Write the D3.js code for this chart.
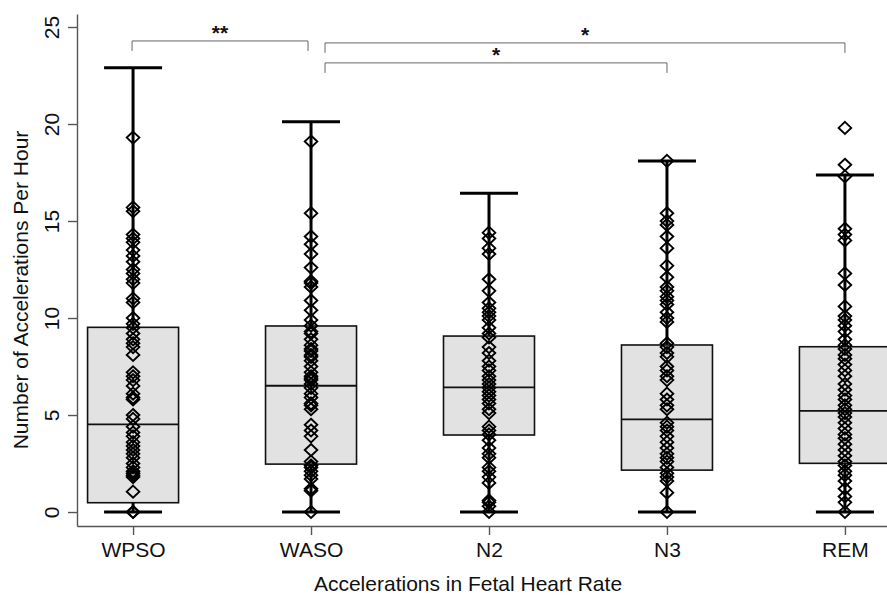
<!DOCTYPE html>
<html>
<head>
<meta charset="utf-8">
<script src="https://cdn.jsdelivr.net/npm/d3@7"></script>
<style>
  body { margin: 0; background: #fff; }
  svg text { font-family: "Liberation Sans", Arial, Helvetica, sans-serif; fill: #111; }
</style>
</head>
<body>
<div id="area"></div>
<script>
// categories and summary stats
var categories = ["WPSO", "WASO", "N2", "N3", "REM"];
var whiskerLow  = [0, 0, 0, 0, 0];
var q1          = [0.48, 2.47, 3.97, 2.16, 2.51];
var median      = [4.52, 6.51, 6.43, 4.78, 5.21];
var q3          = [9.52, 9.59, 9.07, 8.61, 8.52];
var whiskerHigh = [22.9, 20.12, 16.43, 18.09, 17.37];

// individual observations (diamonds)
var ptsWPSO = [0, 0, 1.05, 1.8, 1.9, 2.0, 2.1, 2.3, 2.5, 2.8, 3.0, 3.2, 3.4, 3.6, 3.9, 4.1, 4.4,
  4.8, 5.0, 5.8, 5.9, 6.1, 6.5, 6.8, 7.0, 7.2, 8.1, 8.5, 8.7, 8.9, 9.2, 9.5, 9.7, 10.0, 10.8,
  11.0, 11.8, 12.0, 12.3, 12.5, 12.9, 13.2, 13.5, 13.9, 14.1, 14.3, 15.5, 15.7, 19.3];
var ptsWASO = [0, 1.1, 1.2, 1.7, 1.9, 2.1, 2.3, 2.4, 2.6, 3.2, 3.9, 4.2, 4.5, 5.3, 5.5, 5.6, 5.9,
  6.1, 6.4, 6.6, 6.8, 6.9, 7.0, 7.2, 7.5, 7.8, 8.0, 8.1, 8.3, 8.4, 8.6, 8.9, 9.2, 9.3, 9.6, 9.9,
  10.4, 10.9, 11.6, 11.8, 11.9, 12.6, 13.3, 13.8, 14.2, 15.4, 19.1];
var ptsN2 = [0, 0.3, 0.5, 0.6, 1.5, 1.8, 2.1, 2.3, 2.8, 3.0, 3.3, 3.7, 4.0, 4.2, 4.4, 5.1, 5.3,
  5.6, 5.8, 6.0, 6.2, 6.4, 6.6, 6.8, 7.0, 7.3, 7.5, 7.8, 8.2, 8.5, 9.0, 9.2, 9.5, 9.9, 10.1,
  10.3, 10.5, 10.8, 11.4, 12.0, 13.3, 13.6, 14.1, 14.4];
var ptsN3 = [0, 1.0, 1.6, 1.8, 2.0, 2.3, 2.6, 2.8, 3.0, 3.3, 3.6, 3.9, 4.2, 4.4, 4.6, 5.3, 5.5,
  5.8, 6.1, 6.8, 7.0, 7.3, 7.5, 8.0, 8.2, 8.5, 8.7, 9.8, 10.0, 10.3, 10.7, 10.9, 11.1, 11.4,
  11.6, 12.1, 12.7, 13.6, 14.2, 14.8, 15.0, 15.4, 18.1];
var ptsREM = [0, 0.5, 0.8, 1.2, 1.6, 1.9, 2.1, 2.4, 2.6, 2.9, 3.2, 3.5, 3.8, 4.0, 4.3, 4.6, 4.9,
  5.1, 5.3, 5.5, 5.8, 6.0, 6.3, 6.6, 7.0, 7.3, 7.6, 7.9, 8.1, 8.4, 8.6, 8.9, 9.3, 9.6, 9.9,
  10.1, 10.6, 11.7, 12.3, 14.0, 14.3, 14.6, 17.3, 17.9, 19.8];
var points = [ptsWPSO, ptsWASO, ptsN2, ptsN3, ptsREM];

// significance brackets: from, to, height (in y units), label
var bracketFrom  = ["WPSO", "WASO", "WASO"];
var bracketTo    = ["WASO", "REM", "N3"];
var bracketLevel = [24.28, 24.18, 23.15];
var bracketLabel = ["**", "*", "*"];

var yTicks = [0, 5, 10, 15, 20, 25];

var width = 887, height = 596;

var svg = d3.select('#area').append('svg')
    .attr('width', width)
    .attr('height', height);

var x = d3.scalePoint()
    .domain(categories)
    .range([77, 901])
    .padding(0.315);

var y = d3.scaleLinear()
    .domain([-0.72, 25.67])
    .range([526, 14]);

var boxW = 91, capW = 58;

var data = categories.map(function(c, i) {
  return {cat: c, lo: whiskerLow[i], q1: q1[i], med: median[i], q3: q3[i], hi: whiskerHigh[i], pts: points[i]};
});

var groups = svg.selectAll('.group')
    .data(data)
  .enter().append('g')
    .attr('class', 'group')
    .attr('transform', function(d) { return 'translate(' + x(d.cat) + ',0)'; });

// whiskers
groups.append('line')
    .attr('y1', function(d) { return y(d.lo); })
    .attr('y2', function(d) { return y(d.hi); })
    .attr('stroke', '#000')
    .attr('stroke-width', 3);

groups.selectAll('.cap')
    .data(function(d) { return [d.lo, d.hi]; })
  .enter().append('line')
    .attr('class', 'cap')
    .attr('x1', -capW / 2)
    .attr('x2', capW / 2)
    .attr('y1', function(v) { return y(v); })
    .attr('y2', function(v) { return y(v); })
    .attr('stroke', '#000')
    .attr('stroke-width', 3);

// box
groups.append('rect')
    .attr('x', -boxW / 2)
    .attr('width', boxW)
    .attr('y', function(d) { return y(d.q3); })
    .attr('height', function(d) { return y(d.q1) - y(d.q3); })
    .attr('fill', '#e2e2e2')
    .attr('stroke', '#111')
    .attr('stroke-width', 1.6);

groups.append('line')
    .attr('x1', -boxW / 2)
    .attr('x2', boxW / 2)
    .attr('y1', function(d) { return y(d.med); })
    .attr('y2', function(d) { return y(d.med); })
    .attr('stroke', '#111')
    .attr('stroke-width', 1.8);

// diamonds
groups.selectAll('.pt')
    .data(function(d) { return d.pts; })
  .enter().append('path')
    .attr('class', 'pt')
    .attr('d', function(v) {
      var cy = y(v);
      return 'M0,' + (cy - 6) + 'L6.3,' + cy + 'L0,' + (cy + 6) + 'L-6.3,' + cy + 'Z';
    })
    .attr('fill', 'none')
    .attr('stroke', '#000')
    .attr('stroke-width', 1.9);

// axes
var xAxis = d3.axisBottom(x).tickSize(9).tickSizeOuter(0).tickPadding(6);
var gx = svg.append('g')
    .attr('class', 'xaxis')
    .attr('transform', 'translate(0,526)')
    .call(xAxis);
gx.select('.domain').attr('stroke', '#555').attr('stroke-width', 1.4);
gx.selectAll('.tick line').attr('stroke', '#555').attr('stroke-width', 1.4);
gx.selectAll('.tick text')
    .attr('y', 31)
    .attr('dy', 0)
    .style('font-size', '21px');

var yAxis = d3.axisLeft(y).tickValues(yTicks).tickSize(9).tickSizeOuter(0);
var gy = svg.append('g')
    .attr('class', 'yaxis')
    .attr('transform', 'translate(77,0)')
    .call(yAxis);
gy.select('.domain').attr('stroke', '#555').attr('stroke-width', 1.4);
gy.selectAll('.tick line').attr('stroke', '#555').attr('stroke-width', 1.4);
gy.selectAll('.tick text')
    .attr('transform', 'rotate(-90)')
    .attr('x', 0)
    .attr('y', -18)
    .attr('dy', 0)
    .style('text-anchor', 'middle')
    .style('font-size', '21px');

// axis titles
svg.append('text')
    .attr('x', 468)
    .attr('y', 591)
    .style('text-anchor', 'middle')
    .style('font-size', '21px')
    .text('Accelerations in Fetal Heart Rate');

svg.append('text')
    .attr('transform', 'rotate(-90)')
    .attr('x', -290)
    .attr('y', 28)
    .style('text-anchor', 'middle')
    .style('font-size', '21px')
    .text('Number of Accelerations Per Hour');

// significance brackets
var brackets = bracketFrom.map(function(f, i) {
  return {from: f, to: bracketTo[i], level: bracketLevel[i], label: bracketLabel[i]};
});

var bg = svg.selectAll('.bracket')
    .data(brackets)
  .enter().append('g')
    .attr('class', 'bracket');

// ends shift a little off the category centre, like the original
function bx1(d) { return x(d.from) + (d.from === 'WPSO' ? -1 : 14); }
function bx2(d) { return x(d.to) + (d.to === 'WASO' ? -3 : 0); }

bg.append('path')
    .attr('d', function(d) {
      var yy = y(d.level);
      return 'M' + bx1(d) + ',' + (yy + 10) + 'V' + yy + 'H' + bx2(d) + 'V' + (yy + 10);
    })
    .attr('fill', 'none')
    .attr('stroke', '#666')
    .attr('stroke-width', 1);

bg.append('text')
    .attr('x', function(d) { return (bx1(d) + bx2(d)) / 2; })
    .attr('y', function(d) { return y(d.level) - 1; })
    .style('text-anchor', 'middle')
    .style('font-size', '21px')
    .style('font-weight', 'bold')
    .text(function(d) { return d.label; });
</script>
</body>
</html>
